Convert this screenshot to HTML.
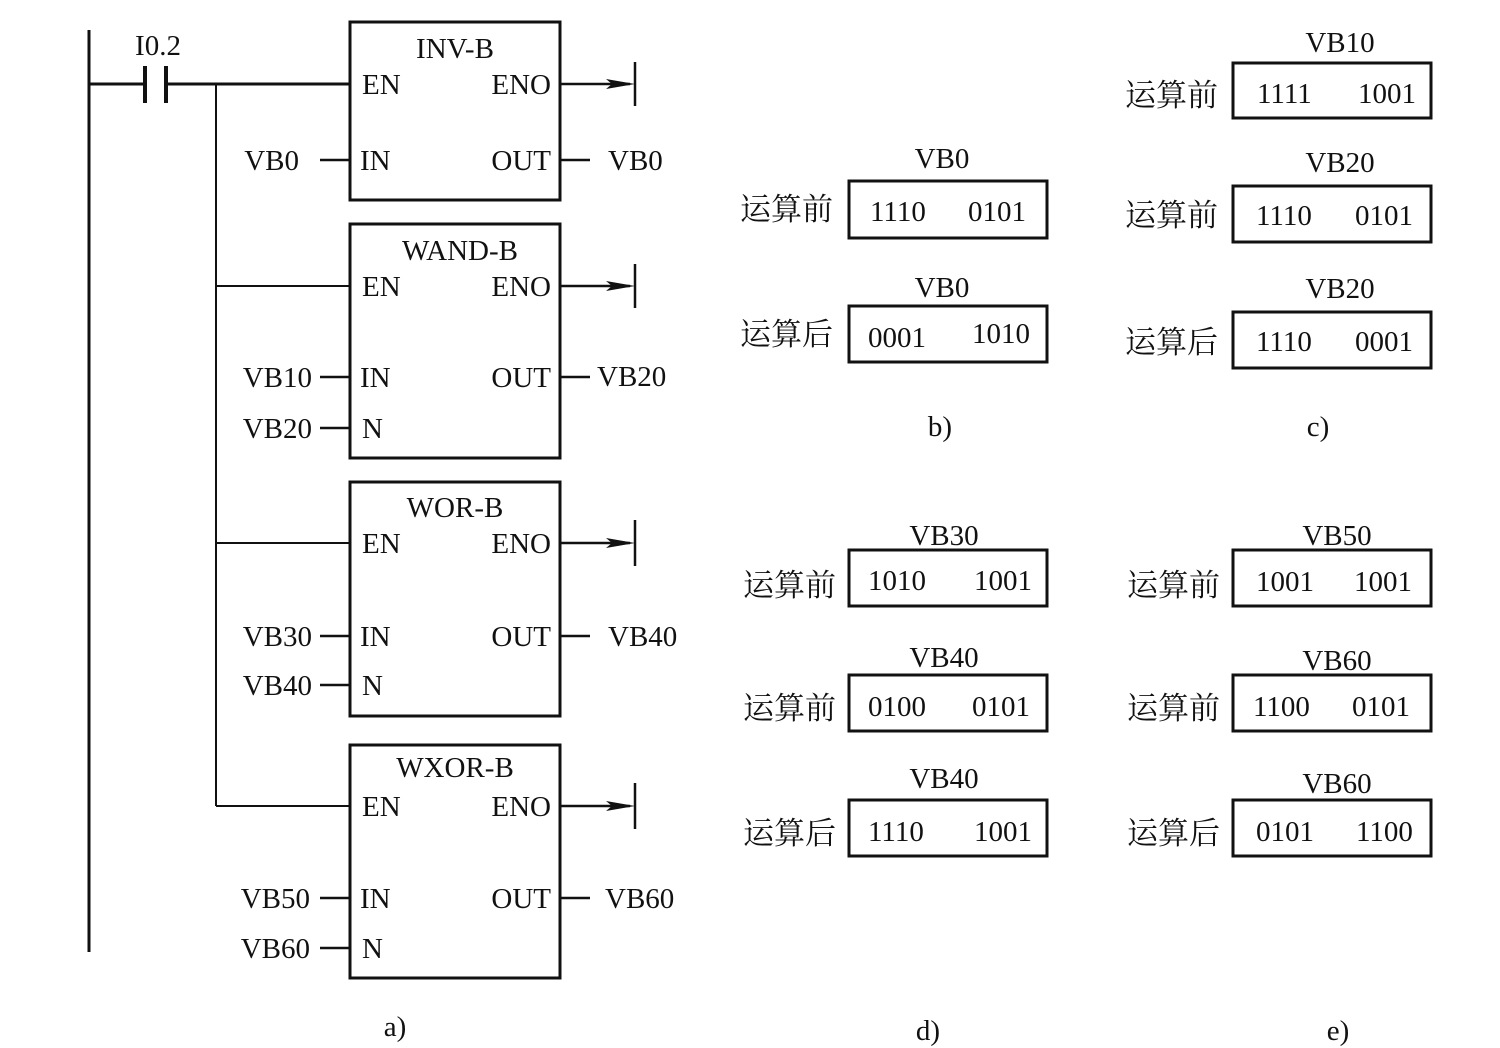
<!DOCTYPE html>
<html><head><meta charset="utf-8"><style>
body{margin:0;background:#fff;}
svg{display:block}
text{font-family:"Liberation Serif","Noto Serif CJK SC",serif;font-size:29px;fill:#111;}
.c{font-family:"Noto Serif CJK SC","Noto Sans CJK SC",serif;font-size:31px;}
</style></head><body>
<svg width="1500" height="1048" viewBox="0 0 1500 1048" xmlns="http://www.w3.org/2000/svg">
<g stroke="#111" stroke-width="3" fill="none">
<line x1="89" y1="30" x2="89" y2="952"/>
<line x1="89" y1="84" x2="145" y2="84"/>
<line x1="145" y1="66" x2="145" y2="103" stroke-width="4"/>
<line x1="166" y1="66" x2="166" y2="103" stroke-width="4"/>
<line x1="166" y1="84" x2="350" y2="84"/>
<line x1="216" y1="84" x2="216" y2="806" stroke-width="2"/>
<line x1="216" y1="286" x2="350" y2="286" stroke-width="2"/>
<line x1="216" y1="543" x2="350" y2="543" stroke-width="2"/>
<line x1="216" y1="806" x2="350" y2="806" stroke-width="2"/>
<rect x="350" y="22" width="210" height="178"/>
<rect x="350" y="224" width="210" height="234"/>
<rect x="350" y="482" width="210" height="234"/>
<rect x="350" y="745" width="210" height="233"/>
<g stroke-width="2.5">
<line x1="560" y1="84" x2="630" y2="84"/><line x1="635" y1="62" x2="635" y2="106"/>
<line x1="560" y1="286" x2="630" y2="286"/><line x1="635" y1="264" x2="635" y2="308"/>
<line x1="560" y1="543" x2="630" y2="543"/><line x1="635" y1="520" x2="635" y2="566"/>
<line x1="560" y1="806" x2="630" y2="806"/><line x1="635" y1="783" x2="635" y2="829"/>
<line x1="320" y1="160" x2="350" y2="160"/><line x1="560" y1="160" x2="590" y2="160"/>
<line x1="320" y1="377" x2="350" y2="377"/><line x1="560" y1="377" x2="590" y2="377"/>
<line x1="320" y1="428" x2="350" y2="428"/>
<line x1="320" y1="636" x2="350" y2="636"/><line x1="560" y1="636" x2="590" y2="636"/>
<line x1="320" y1="685" x2="350" y2="685"/>
<line x1="320" y1="898" x2="350" y2="898"/><line x1="560" y1="898" x2="590" y2="898"/>
<line x1="320" y1="948" x2="350" y2="948"/>
</g>
<g stroke-width="3">
<rect x="849" y="181" width="198" height="57"/>
<rect x="849" y="306" width="198" height="56"/>
<rect x="1233" y="63" width="198" height="55"/>
<rect x="1233" y="186" width="198" height="56"/>
<rect x="1233" y="312" width="198" height="56"/>
<rect x="849" y="550" width="198" height="56"/>
<rect x="849" y="675" width="198" height="56"/>
<rect x="849" y="800" width="198" height="56"/>
<rect x="1233" y="550" width="198" height="56"/>
<rect x="1233" y="675" width="198" height="56"/>
<rect x="1233" y="800" width="198" height="56"/>
</g>
</g>
<g fill="#111">
<polygon points="606,79 635,84 606,89 612,84"/>
<polygon points="606,281 635,286 606,291 612,286"/>
<polygon points="606,538 635,543 606,548 612,543"/>
<polygon points="606,801 635,806 606,811 612,806"/>
</g>
<text x="158" y="55" text-anchor="middle" font-size="26">I0.2</text>
<g text-anchor="middle">
<text x="455" y="58">INV-B</text>
<text x="460" y="260">WAND-B</text>
<text x="455" y="517">WOR-B</text>
<text x="455" y="777">WXOR-B</text>
</g>
<g>
<text x="362" y="94">EN</text><text x="362" y="296">EN</text><text x="362" y="553">EN</text><text x="362" y="816">EN</text>
<text x="360" y="170">IN</text><text x="360" y="387">IN</text><text x="360" y="646">IN</text><text x="360" y="908">IN</text>
<text x="362" y="438">N</text><text x="362" y="695">N</text><text x="362" y="958">N</text>
<text x="608" y="170">VB0</text><text x="597" y="386">VB20</text><text x="608" y="646">VB40</text><text x="605" y="908">VB60</text>
</g>
<g text-anchor="end">
<text x="551" y="94">ENO</text><text x="551" y="296">ENO</text><text x="551" y="553">ENO</text><text x="551" y="816">ENO</text>
<text x="551" y="170">OUT</text><text x="551" y="387">OUT</text><text x="551" y="646">OUT</text><text x="551" y="908">OUT</text>
<text x="299" y="170">VB0</text>
<text x="312" y="387">VB10</text><text x="312" y="438">VB20</text>
<text x="312" y="646">VB30</text><text x="312" y="695">VB40</text>
<text x="310" y="908">VB50</text><text x="310" y="958">VB60</text>
</g>
<text x="395" y="1036" text-anchor="middle">a)</text>
<text x="940" y="436" text-anchor="middle">b)</text>
<text x="1318" y="436" text-anchor="middle">c)</text>
<text x="928" y="1040" text-anchor="middle">d)</text>
<text x="1338" y="1040" text-anchor="middle">e)</text>
<g text-anchor="middle">
<text x="942" y="168">VB0</text><text x="942" y="297">VB0</text>
<text x="1340" y="52">VB10</text><text x="1340" y="172">VB20</text><text x="1340" y="298">VB20</text>
<text x="944" y="545">VB30</text><text x="944" y="667">VB40</text><text x="944" y="788">VB40</text>
<text x="1337" y="545">VB50</text><text x="1337" y="670">VB60</text><text x="1337" y="793">VB60</text>
</g>
<g>
<text x="870" y="221">1110</text><text x="968" y="221">0101</text>
<text x="868" y="347">0001</text><text x="972" y="343">1010</text>
<text x="1257" y="103">1111</text><text x="1358" y="103">1001</text>
<text x="1256" y="225">1110</text><text x="1355" y="225">0101</text>
<text x="1256" y="351">1110</text><text x="1355" y="351">0001</text>
<text x="868" y="590">1010</text><text x="974" y="590">1001</text>
<text x="868" y="716">0100</text><text x="972" y="716">0101</text>
<text x="868" y="841">1110</text><text x="974" y="841">1001</text>
<text x="1256" y="591">1001</text><text x="1354" y="591">1001</text>
<text x="1253" y="716">1100</text><text x="1352" y="716">0101</text>
<text x="1256" y="841">0101</text><text x="1356" y="841">1100</text>
</g>
<g>
<text class="c" x="740" y="220">运算前</text><text class="c" x="740" y="345">运算后</text>
<text class="c" x="1125" y="106">运算前</text><text class="c" x="1125" y="226">运算前</text><text class="c" x="1125" y="353">运算后</text>
<text class="c" x="743" y="596">运算前</text><text class="c" x="743" y="719">运算前</text><text class="c" x="743" y="844">运算后</text>
<text class="c" x="1127" y="596">运算前</text><text class="c" x="1127" y="719">运算前</text><text class="c" x="1127" y="844">运算后</text>
</g>
</svg>
</body></html>
